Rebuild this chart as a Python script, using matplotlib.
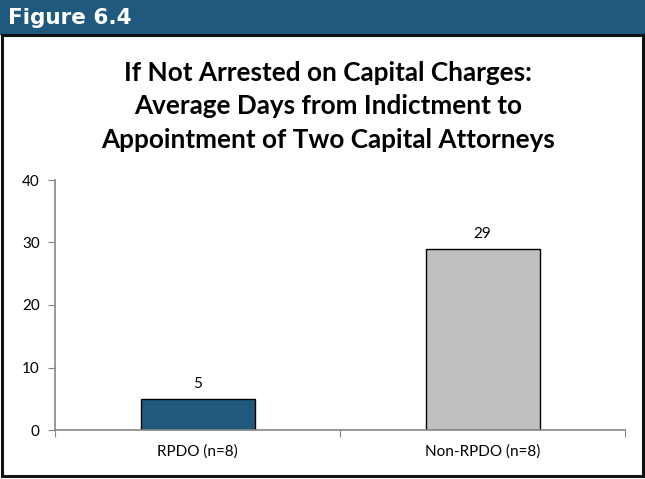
import matplotlib
matplotlib.use("Agg")
import matplotlib.pyplot as plt
from matplotlib.patches import Rectangle

# --- data ---
categories = ["RPDO (n=8)", "Non-RPDO (n=8)"]
avg_days = [5, 29]
bar_colors = ["#1F5A7E", "#C0C0C0"]

header_text = "Figure 6.4"
title_lines = ["If Not Arrested on Capital Charges:",
               "Average Days from Indictment to",
               "Appointment of Two Capital Attorneys"]

W, H = 645, 479
fig = plt.figure(figsize=(W / 100, H / 100), dpi=100)
fig.patch.set_facecolor("white")

def fx(px):
    return px / W

def fy(py):
    return 1 - py / H

# header band + frame
fig.patches.append(Rectangle((0, fy(35)), 1, fy(0) - fy(35), transform=fig.transFigure,
                             facecolor="#1F5A7E", edgecolor="none", zorder=0))
fig.patches.append(Rectangle((fx(2), fy(476)), fx(641), fy(35) - fy(476), transform=fig.transFigure,
                             facecolor="none", edgecolor="#111111", linewidth=2.2, zorder=1))
fig.text(fx(8), fy(18), header_text, color="white", fontsize=15.5, fontweight="bold",
         family="DejaVu Sans", ha="left", va="center")

for i, line in enumerate(title_lines):
    fig.text(fx(328), fy(73 + 33.5 * i), line, fontsize=18.8, fontweight="bold",
             family="Lato", ha="center", va="center", color="black")

ax = fig.add_axes([fx(55), fy(430), fx(625) - fx(55), fy(180) - fy(430)])
x = range(len(categories))
bars = ax.bar(x, avg_days, width=0.4, color=bar_colors, edgecolor="black", linewidth=1)
for b, v in zip(bars, avg_days):
    ax.text(b.get_x() + b.get_width() / 2, v + 1.3, str(v), ha="center", va="bottom",
            fontsize=11, family="Lato")

ax.set_xlim(-0.5, 1.5)
ax.set_ylim(0, 40)
ax.set_yticks([0, 10, 20, 30, 40])
ax.set_xticks([-0.5, 0.5, 1.5])
ax.set_xticklabels([])
ax.set_xticks(list(x), minor=True)
ax.set_xticklabels(categories, minor=True, fontsize=11, family="Lato")
ax.tick_params(axis="x", which="minor", length=0, pad=10)
ax.tick_params(axis="x", which="major", length=5, color="#868686")
ax.tick_params(axis="y", length=5, color="#868686", labelsize=11, pad=6)
for lab in ax.get_yticklabels():
    lab.set_family("Lato")
for side in ["top", "right"]:
    ax.spines[side].set_visible(False)
for side in ["left", "bottom"]:
    ax.spines[side].set_color("#868686")
    ax.spines[side].set_linewidth(1.2)

fig.savefig("out.png", dpi=100)
